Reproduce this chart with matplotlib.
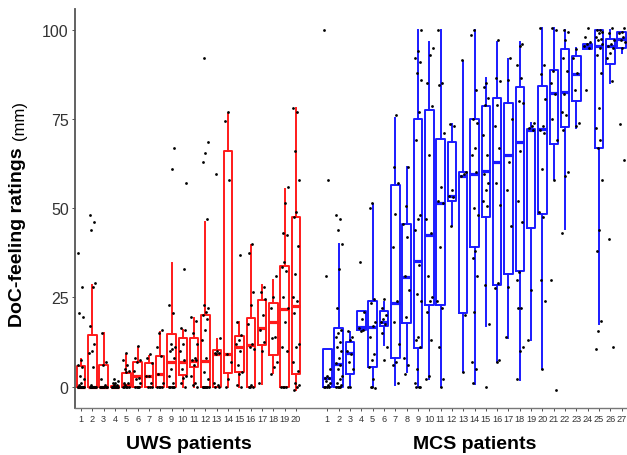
import numpy as np
import matplotlib
matplotlib.use("Agg")
import matplotlib.pyplot as plt
import matplotlib.transforms as mtransforms

plt.rcParams['font.family'] = ['Liberation Sans', 'DejaVu Sans']

# box summaries (q1, median, q3, whisker low, whisker high)
uws_q1 = [0, 0, 0, 0, 0, 0, 0, 0, 0, 3.3, 5.5, 0, 0, 3.9, 4, 0, 11.7, 8.8, 0, 3.5]
uws_med = [0, 0, 0, 0, 0.5, 3, 3, 3.5, 7, 7, 7.3, 7.3, 9, 9, 11, 11.8, 16.3, 18, 21.8, 22.5]
uws_q3 = [5.9, 14.6, 6, 0.3, 3.8, 6.9, 6.6, 8.7, 14.7, 13.6, 13.7, 20.1, 10.2, 66, 14.3, 19.2, 24.3, 23.3, 33.8, 47.6]
uws_lo = [0, 0, 0, 0, 0, 0, 0, 0, 0, 0, 0, 0, 0, 0, 0, 0, 0.8, 3.8, 0, -1]
uws_hi = [7.8, 28.4, 15, 0.5, 8.9, 11, 8.7, 15.3, 34.6, 16, 19.1, 46, 13.4, 76.4, 18, 39.7, 28.6, 29.8, 55.5, 78]

mcs_q1 = [0, 0, 3.6, 15.9, 5.4, 17, 8, 17.8, 10.8, 23, 23, 52, 20.5, 39, 47.5, 28.5, 31.5, 32.5, 44.5, 48.5, 68, 72.8, 80, 94.5, 67, 90.5, 94.8]
mcs_med = [2.4, 6.4, 9.5, 16.6, 16.8, 18.2, 23.4, 30.6, 35.3, 42.5, 51.5, 53.5, 59, 59.5, 60.5, 63, 65, 68.5, 72, 72.3, 82.4, 82.5, 87.5, 95.5, 95.5, 95.4, 97.5]
mcs_q3 = [10.5, 16.4, 12.6, 21.3, 23.9, 21.1, 56.5, 45.5, 75, 77.5, 69.5, 68.5, 60, 75, 78.5, 80.8, 79.6, 84, 72.3, 84.3, 88.7, 94.5, 92.5, 95.9, 99.8, 97.5, 99.5]
mcs_lo = [0, 0, 0.3, 15.9, 0, 11.8, 0.5, 4, 0, 2, 0, 45, 4, 0.7, 17, 6.8, 13.6, 1.9, 13.1, 5, 58.3, 44.3, 72.4, 94.5, 17.6, 85, 93.5]
mcs_hi = [10.5, 40, 15.2, 21.3, 51.3, 23.6, 75.2, 61.6, 100, 96.7, 100, 73.5, 91.3, 100, 86.6, 96.7, 91.8, 96.7, 73.8, 100.5, 100.5, 100, 94.8, 95.9, 99.8, 100, 99.5]

# individual ratings (approximate)
uws_points = [
    [37.5, 28, 20.5, 19.5, 7.5, 6, 5.5, 3, 2, 1, 0.5, 0, 0, 0, 0, 0, 0, 0, 0, 0],
    [48, 46, 44, 29, 28, 17, 12, 10, 9.5, 5.5, 0.5, 0, 0, 0, 0, 0, 0, 0, 0],
    [15, 7, 6, 2, 0.5, 0, 0, 0, 0, 0, 0, 0],
    [2, 1.5, 1, 1, 0.5, 0.5, 0, 0, 0, 0, 0, 0, 0, 0],
    [9.5, 7.5, 6, 5, 4.5, 4, 1, 1, 0.5, 0, 0, 0, 0, 0],
    [11.5, 8, 7.5, 7, 4.5, 2.5, 2, 1, 0, 0, 0, 0],
    [9, 8, 6.5, 3, 3, 1, 0, 0, 0],
    [16, 15, 11, 8.5, 3.5, 1, 0, 0, 0, 0],
    [67, 61, 23, 20.5, 12, 11, 10.5, 10, 8, 5, 3, 1, 0, 0, 0, 0, 0],
    [57, 33, 16.5, 16, 12, 10, 7.5, 5, 3, 2.5, 1, 0],
    [19.5, 18.5, 15, 12, 8, 7.5, 7.5, 6, 3, 1, 0.5, 0],
    [92, 68.5, 65.5, 63, 47, 23, 22, 21, 20, 19, 16, 13, 8, 4, 2, 0, 0, 0, 0, 0, 0, 0],
    [59.5, 13.5, 10, 9.5, 9.5, 9, 1, 0.5, 0, 0],
    [77, 74.5, 58, 9, 7, 2, 0],
    [37, 18, 14.5, 13, 12, 10, 6, 4, 3.5, 0.5, 0],
    [40, 37.5, 26.5, 23, 17.5, 12, 11, 10.5, 0.5, 0, 0, 0],
    [28, 26.5, 24.5, 20, 16, 12.5, 10, 1],
    [31, 25, 22, 14, 13.5, 7, 5.5, 3.5],
    [56, 51.5, 43, 42.5, 35, 33.5, 32.5, 25, 22, 18, 11, 10, 0, 0, 0, 0],
    [78, 77, 66, 58, 49, 47.5, 39.5, 31.5, 25, 24, 20.5, 12, 11, 7, 4.5, 1, 0.5, 0, -1],
]
mcs_points = [
    [100, 58, 31, 5, 3, 2.5, 2.5, 1.5, 1, 0.5, 0, 0, 0, 0],
    [48, 47, 44, 40, 33, 22, 16, 15, 14, 12.5, 11, 10, 8, 6.5, 6, 5, 3, 2, 1, 0.5, 0, 0, 0, 0],
    [15.5, 14, 13, 10, 9, 7, 5, 0, 0],
    [35, 21, 19, 16.5, 16, 15.5],
    [51.5, 50, 24.5, 23.5, 18, 17, 14, 9, 7.5, 5.5, 2, 0, -0.5, 0],
    [24.5, 22, 20, 19, 18, 17.5, 15, 11, 7.5],
    [76, 61.5, 57, 48.5, 39, 24, 18, 12, 7, 6, 1],
    [61.5, 50.5, 45.5, 42, 31, 27, 19.5, 8, 6, 3.5],
    [100, 94, 92, 91, 88, 86, 77, 69, 48, 47, 44, 34, 26, 24, 14, 13, 11, 5, 1, 0, 0, 0],
    [95, 93, 85, 78.5, 65, 47, 43, 31, 25, 24, 21, 13, 3, 2],
    [100, 85, 84.5, 71, 56, 52, 51.5, 39, 24, 22, 11, 2, 0],
    [73.5, 73, 55, 53.5, 53, 45],
    [91.5, 60, 59.5, 59, 20, 4],
    [100, 98.5, 83, 75, 74, 67, 65, 60, 50, 48, 38, 36, 31, 21, 7, 5, 1],
    [85, 84, 81, 79, 70.5, 65, 59.5, 57, 55, 52, 50.5, 28.5, 17.5, 0],
    [97, 86.5, 85.5, 79, 73, 67, 57, 51, 29, 27.5, 7.5, 7],
    [92, 86, 75, 63, 55, 45, 28, 14],
    [96, 95.5, 90, 86.5, 80, 79.5, 66, 52, 46, 32, 30, 22, 22, 11, 10, 2],
    [74, 73, 72.5, 72, 27, 13],
    [100.5, 90, 87.5, 80.5, 73, 72, 71, 61, 49, 47.5, 30, 24, 5],
    [100.5, 100, 88.5, 85, 82, 75, 69, 58, 30, -1],
    [100, 99.5, 97, 92, 88.5, 82, 77, 76, 72, 60, 59, 43],
    [94.5, 92, 88, 83, 74, 73],
    [100.5, 98, 96.5, 96, 95.5, 95, 83],
    [100, 100, 99.5, 99, 98, 97.5, 97, 96, 95, 93, 88, 78, 72.5, 69, 67, 58, 44, 38, 18.5, 15.5, 10.5],
    [100.5, 99, 97, 96, 95.5, 95, 93.5, 92, 85.5, 41.5, 11],
    [100.5, 99.5, 99, 98, 97, 96.5, 95, 73.5, 63.5],
]

uws_labels = [str(i) for i in range(1, 21)]
mcs_labels = [str(i) for i in range(1, 28)]

uws_pos = np.arange(1, 21)
mcs_pos = 22.77 + np.arange(27)

fig = plt.figure(figsize=(6.27, 4.56), dpi=100)
ax = fig.add_axes([0.1196, 0.103, 0.8804, 0.875])


def draw_group(pos, q1, med, q3, lo, hi, pts, colour):
    stats = []
    for i in range(len(pos)):
        stats.append({"q1": q1[i], "med": med[i], "q3": q3[i],
                      "whislo": lo[i], "whishi": hi[i], "fliers": []})
    ax.bxp(stats, positions=pos, widths=0.75, showcaps=False, showfliers=False,
           boxprops=dict(color=colour, linewidth=1.4),
           whiskerprops=dict(color=colour, linewidth=1.4),
           medianprops=dict(color=colour, linewidth=2.3, solid_capstyle='butt'),
           manage_ticks=False)
    for i, vals in enumerate(pts):
        n = len(vals)
        offs = ((np.arange(n) * 0.618 + 0.11 * i) % 1 - 0.5) * 0.6
        ax.plot(pos[i] + offs, vals, 'o', color='black', markersize=2.0,
                markeredgewidth=0, zorder=3)


draw_group(uws_pos, uws_q1, uws_med, uws_q3, uws_lo, uws_hi, uws_points, '#FF1A1A')
draw_group(mcs_pos, mcs_q1, mcs_med, mcs_q3, mcs_lo, mcs_hi, mcs_points, '#1A1AFF')

ax.set_xlim(0.47, 49.24)
ax.set_ylim(-6, 105.8)
ax.set_yticks([0, 25, 50, 75, 100])
ax.set_yticklabels(['0', '25', '50', '75', '100'], fontsize=11.5, color='#333333')
ax.set_xticks(list(uws_pos) + list(mcs_pos))
ax.set_xticklabels(uws_labels + mcs_labels, fontsize=6.6, color='#333333')
ax.tick_params(axis='both', length=2.5, width=0.6, color='#333333', pad=2)
ax.tick_params(axis='x', pad=2)
for s in ['top', 'right']:
    ax.spines[s].set_visible(False)
ax.spines['left'].set_color('#555555')
ax.spines['left'].set_linewidth(1.3)
ax.spines['bottom'].set_color('#777777')
ax.spines['bottom'].set_linewidth(1.0)

trans = mtransforms.blended_transform_factory(ax.transData, fig.transFigure)
ax.text((uws_pos[0] + uws_pos[-1]) / 2, 1 - 445 / 456, 'UWS patients', transform=trans,
        ha='center', va='center', fontsize=14, fontweight='bold')
ax.text((mcs_pos[0] + mcs_pos[-1]) / 2, 1 - 445 / 456, 'MCS patients', transform=trans,
        ha='center', va='center', fontsize=14, fontweight='bold')

fig.text(18 / 627, 1 - 327 / 456, 'DoC-feeling ratings', rotation=90, ha='center', va='bottom',
         fontsize=14, fontweight='bold')
fig.text(19 / 627, 1 - 140 / 456, '(mm)', rotation=90, ha='center', va='bottom', fontsize=12)

fig.savefig('out.png', dpi=100)
